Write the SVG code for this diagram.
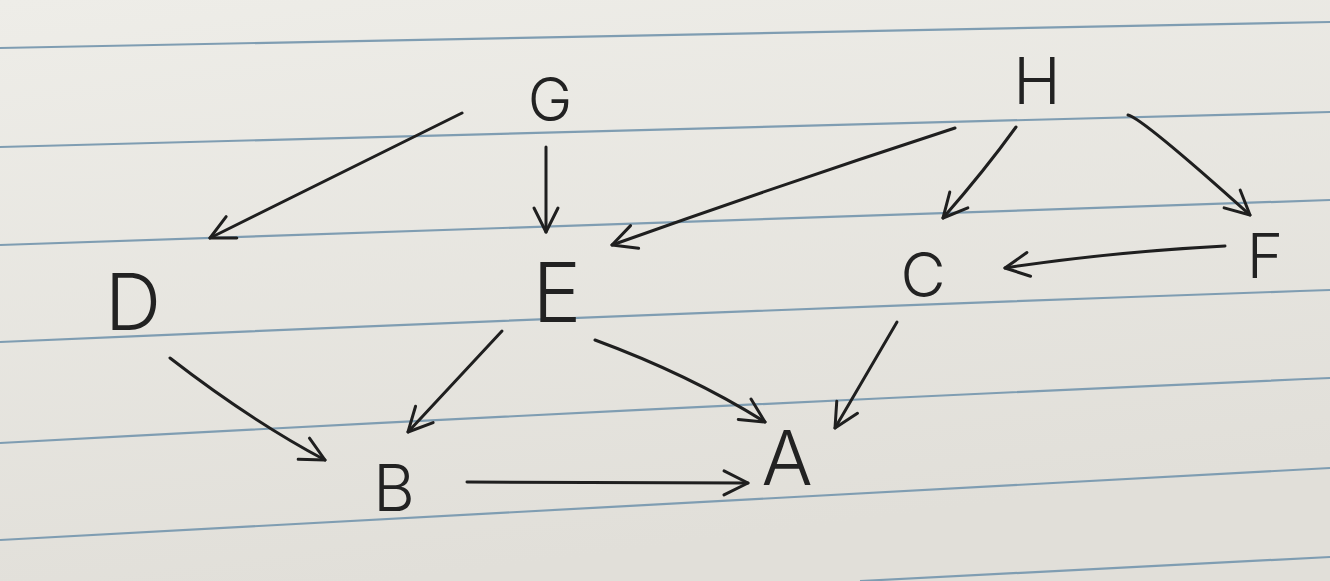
<svg xmlns="http://www.w3.org/2000/svg" width="1330" height="581" viewBox="0 0 1330 581">
<defs>
<linearGradient id="paper" x1="0" y1="0" x2="0.3" y2="1">
<stop offset="0" stop-color="#eeede8"/>
<stop offset="1" stop-color="#e1dfd9"/>
</linearGradient>
<marker id="ah" markerUnits="userSpaceOnUse" markerWidth="40" markerHeight="40" refX="0" refY="0" viewBox="-30 -20 40 40" orient="auto" overflow="visible">
<path d="M-24,-12 L0,0 L-24,12" fill="none" stroke="#1f1f1f" stroke-width="3" stroke-linecap="round" stroke-linejoin="round"/>
</marker>
</defs>
<style>
.rule{fill:none;stroke:#7f9db2;stroke-width:2.2}
.edge{fill:none;stroke:#1f1f1f;stroke-width:3;stroke-linecap:round;marker-end:url(#ah)}
.lbl{font-family:Inter,"Liberation Sans",Arial,sans-serif;font-weight:300;fill:#222;text-anchor:middle}
</style>
<rect width="1330" height="581" fill="url(#paper)"/>
<g id="paper-lines">
<path class="rule" d="M0,48 Q665,36 1330,22"/>
<path class="rule" d="M0,147 Q665,131 1330,112"/>
<path class="rule" d="M0,245 Q665,223 1330,200"/>
<path class="rule" d="M0,342 Q665,313 1330,290"/>
<path class="rule" d="M0,443 Q665,407 1330,378"/>
<path class="rule" d="M0,540 Q665,503 1330,468"/>
<path class="rule" d="M860,581 L1330,557"/>
</g>
<g id="connectors">
<path class="edge" d="M462,113 L210,238"/>
<path class="edge" d="M546,147 L546,232"/>
<path class="edge" d="M955,128 Q780,185 612,245"/>
<path class="edge" d="M1016,127 Q985,170 943,218"/>
<path class="edge" d="M1128,115 Q1142,118 1250,215"/>
<path class="edge" d="M1225,246 Q1110,252 1005,268"/>
<path class="edge" d="M897,322 L835,428"/>
<path class="edge" d="M502,331 L408,432"/>
<path class="edge" d="M595,340 Q690,375 765,422"/>
<path class="edge" d="M170,358 Q250,420 325,460"/>
<path class="edge" d="M467,482 L748,483"/>
</g>
<g id="node-G"><text class="lbl" x="550" y="121" font-size="60">G</text></g>
<g id="node-H"><text class="lbl" x="1037" y="104" font-size="64">H</text></g>
<g id="node-D"><text class="lbl" x="133" y="330" font-size="78">D</text></g>
<g id="node-E"><text class="lbl" x="557" y="322" font-size="82">E</text></g>
<g id="node-C"><text class="lbl" x="923" y="297" font-size="62">C</text></g>
<g id="node-F"><text class="lbl" x="1265" y="278" font-size="62">F</text></g>
<g id="node-B"><text class="lbl" x="394" y="511" font-size="64">B</text></g>
<g id="node-A"><text class="lbl" x="787" y="485" font-size="76">A</text></g>
</svg>
